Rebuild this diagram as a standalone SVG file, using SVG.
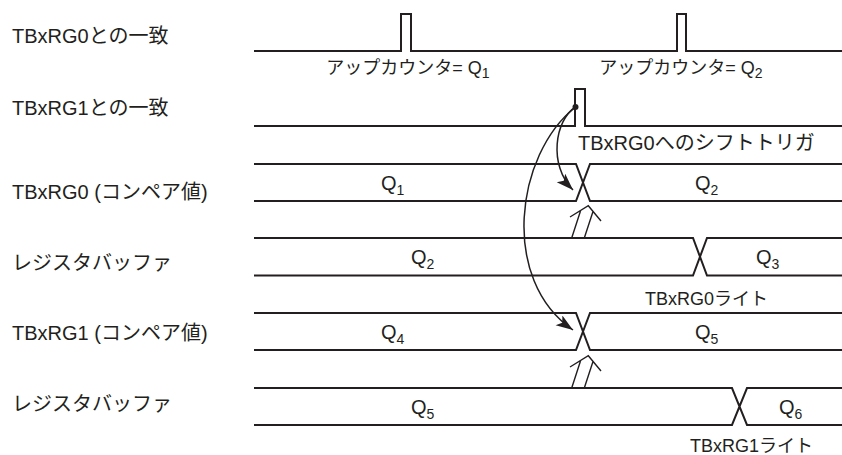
<svg xmlns="http://www.w3.org/2000/svg" width="842" height="455" viewBox="0 0 842 455">
<style>
.sig{fill:none;stroke:#231f20;stroke-width:2;stroke-linejoin:miter}
.lbl{font-family:"Liberation Sans","Noto Sans CJK JP",sans-serif;font-size:20px;fill:#231f20}
.sm{font-family:"Liberation Sans","Noto Sans CJK JP",sans-serif;font-size:18px;fill:#231f20}
.q{font-family:"Liberation Sans",sans-serif;font-size:20px;fill:#231f20}
.sub{font-size:14px}
.arr{fill:none;stroke:#231f20;stroke-width:1.5}
.dbl{fill:none;stroke:#231f20;stroke-width:1.4;stroke-linejoin:miter}
</style>
<defs>
<marker id="ah" markerUnits="userSpaceOnUse" markerWidth="20" markerHeight="14" refX="17" refY="6" orient="auto">
<path d="M0,0 L17,6 L0,12 L4,6 z" fill="#231f20"/>
</marker>
</defs>
<g id="labels">
<text class="lbl" x="12" y="43">TBxRG0との一致</text>
<text class="lbl" x="12" y="115">TBxRG1との一致</text>
<text class="lbl" x="12" y="199">TBxRG0 (コンペア値)</text>
<text class="lbl" x="12" y="270">レジスタバッファ</text>
<text class="lbl" x="12" y="340">TBxRG1 (コンペア値)</text>
<text class="lbl" x="12" y="411">レジスタバッファ</text>
</g>
<g id="match0">
<path class="sig" d="M254,51 H401 V14 H411 V51 H677 V14 H686 V51 H842"/>
<text class="sm" x="408" y="74" text-anchor="middle">アップカウンタ= Q<tspan class="sub" dy="4" font-size="13">1</tspan></text>
<text class="sm" x="681" y="74" text-anchor="middle">アップカウンタ= Q<tspan class="sub" dy="4" font-size="13">2</tspan></text>
</g>
<g id="match1">
<path class="sig" d="M254,126 H575 V89 H585 V126 H842"/>
<text class="lbl" x="578" y="150" font-size="19">TBxRG0へのシフトトリガ</text>
</g>
<g id="cmp0">
<path class="sig" d="M254,164 H576 L590,201 H842 M254,201 H576 L590,164 H842"/>
<text class="q" x="381" y="190">Q<tspan class="sub" dy="5">1</tspan></text>
<text class="q" x="695" y="190">Q<tspan class="sub" dy="5">2</tspan></text>
</g>
<g id="buf0">
<path class="sig" d="M254,238 H693 L707,275.5 H842 M254,275.5 H693 L707,238 H842"/>
<text class="q" x="411" y="264">Q<tspan class="sub" dy="5">2</tspan></text>
<text class="q" x="756" y="264">Q<tspan class="sub" dy="5">3</tspan></text>
<text class="sm" x="645" y="305">TBxRG0ライト</text>
</g>
<g id="cmp1">
<path class="sig" d="M254,313 H576 L590,350 H842 M254,350 H576 L590,313 H842"/>
<text class="q" x="381" y="339">Q<tspan class="sub" dy="5">4</tspan></text>
<text class="q" x="695" y="339">Q<tspan class="sub" dy="5">5</tspan></text>
</g>
<g id="buf1">
<path class="sig" d="M254,388 H732 L747,425 H842 M254,425 H732 L747,388 H842"/>
<text class="q" x="411" y="414">Q<tspan class="sub" dy="5">5</tspan></text>
<text class="q" x="779" y="414">Q<tspan class="sub" dy="5">6</tspan></text>
<text class="sm" x="690" y="452">TBxRG1ライト</text>
</g>
<g id="connectors">
<circle cx="575.5" cy="107" r="3" fill="#231f20"/>
<path class="arr" d="M575.5,107 C555,120 548,165 573,190" marker-end="url(#ah)"/>
<path class="arr" d="M575.5,107 C515,155 500,280 573,330" marker-end="url(#ah)"/>
<path class="dbl" d="M571.7,238 L580.5,211 M584.3,238 L593,211.5 M570,217 L588.3,205.7 L601,221"/>
<path class="dbl" d="M571.7,388 L580.5,361 M584.3,388 L593,361.5 M570,367 L588.3,355.7 L601,371"/>
</g>
</svg>
